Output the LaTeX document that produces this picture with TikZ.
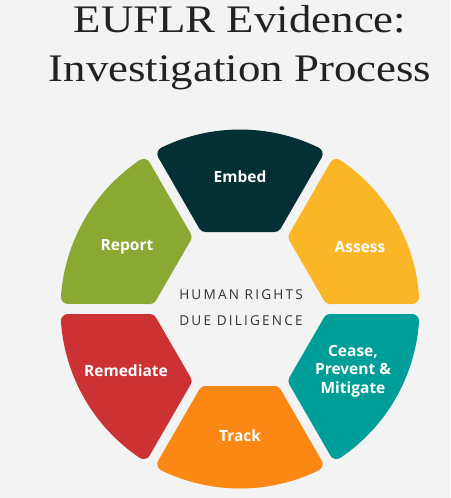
\documentclass[tikz,border=0pt]{standalone}
\usepackage{fontspec}
\setmainfont{Liberation Serif}[FakeStretch=1.15]
\newfontfamily\ringfont{Open Sans}
\newfontfamily\hubfont{Open Sans}[LetterSpace=16]
\usetikzlibrary{positioning}

\definecolor{pagebg}{RGB}{243,243,243}
\definecolor{titlegray}{RGB}{34,34,34}
\definecolor{hubgray}{RGB}{51,51,51}
\definecolor{embedc}{RGB}{4,47,52}
\definecolor{assessc}{RGB}{251,182,40}
\definecolor{ceasec}{RGB}{0,158,152}
\definecolor{trackc}{RGB}{251,136,20}
\definecolor{remediatec}{RGB}{204,50,52}
\definecolor{reportc}{RGB}{138,168,50}

\tikzset{
  segment/.style={line width=14pt, line join=round},
  steplabel/.style={text=white, font=\ringfont\bfseries\fontsize{15.5}{18.5}\selectfont, align=center},
  hub/.style={text=hubgray, font=\hubfont\fontsize{13.6}{26}\selectfont, align=center},
  heading/.style={text=titlegray, font=\fontsize{39}{49}\selectfont}
}

\begin{document}
\begin{tikzpicture}[x=1pt,y=1pt]

  \fill[pagebg] (-240,-189) rectangle (210,309);
  \useasboundingbox (-240,-189) rectangle (210,309);

  \node[heading, anchor=base] (title1) at (0,276) {EUFLR Evidence:};
  \node[heading, anchor=base] (title2) at (0,227) {Investigation Process};

  % ring of six segments
  \foreach \ang/\hue in {90/embedc, 30/assessc, -30/ceasec, -90/trackc, -150/remediatec, 150/reportc}
    \filldraw[segment, draw=\hue, fill=\hue, rotate=\ang-90]
      (34.64,84) -- (63.99:172.5) arc[start angle=63.99, end angle=116.01, radius=172.5]
      -- (-34.64,84) -- cycle;

  \node[steplabel] (embed) at (0,132) {Embed};
  \node[steplabel] (assess) at (120,62) {Assess};
  \node[steplabel] (cease) at (113,-62) {Cease,\\Prevent \&\\Mitigate};
  \node[steplabel] (track) at (0,-127) {Track};
  \node[steplabel] (remediate) at (-114,-62) {Remediate};
  \node[steplabel] (report) at (-113,62) {Report};

  \node[hub] (hrdd) at (1,1.7) {HUMAN RIGHTS\\DUE DILIGENCE};

\end{tikzpicture}
\end{document}
